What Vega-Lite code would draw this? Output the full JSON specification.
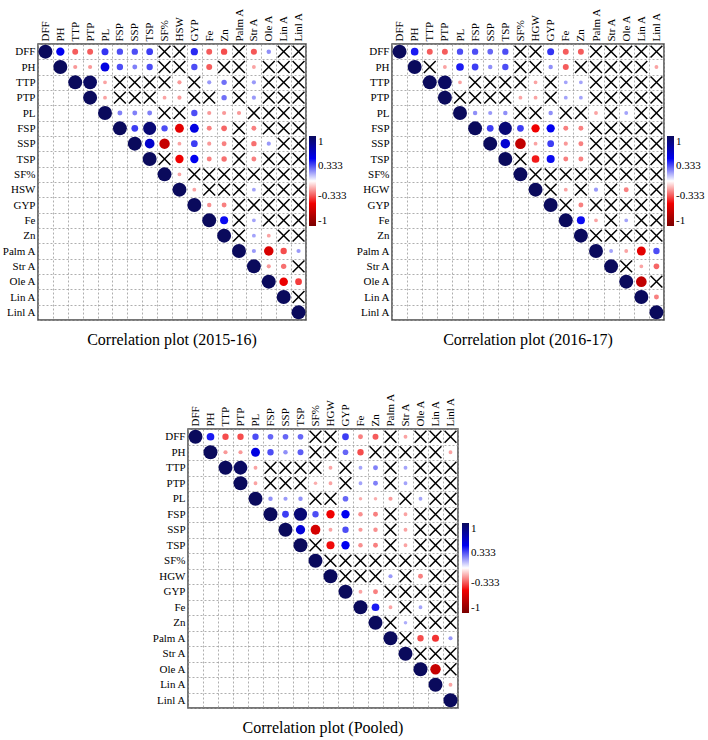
{
"$schema": "https://vega.github.io/schema/vega-lite/v6.json",
"padding": {"left": 0, "top": 6, "right": 0, "bottom": 0},
"config": {
  "font": "Liberation Serif",
  "view": {"stroke": "#4a4a4a", "strokeWidth": 1.5},
  "axis": {"labelFont": "Liberation Serif", "labelFontSize": 11, "labelColor": "#000", "gridColor": "#9a9a9a", "gridDash": [2, 2], "gridWidth": 0.8, "gridOpacity": 1, "ticks": false, "domain": false, "title": null, "labelPadding": 3},
  "legend": {"labelFont": "Liberation Serif", "labelFontSize": 11, "labelColor": "#000"},
  "title": {"font": "Liberation Serif", "fontSize": 16, "fontWeight": "normal", "color": "#000"}
},
"datasets": {
"a": [
{"r":"DFF","c":"DFF","v":1},{"r":"PH","c":"PH","v":1},{"r":"TTP","c":"TTP","v":1},{"r":"PTP","c":"PTP","v":1},{"r":"PL","c":"PL","v":1},{"r":"FSP","c":"FSP","v":1},{"r":"SSP","c":"SSP","v":1},{"r":"TSP","c":"TSP","v":1},{"r":"SF%","c":"SF%","v":1},{"r":"HSW","c":"HSW","v":1},{"r":"GYP","c":"GYP","v":1},{"r":"Fe","c":"Fe","v":1},{"r":"Zn","c":"Zn","v":1},{"r":"Palm A","c":"Palm A","v":1},{"r":"Str A","c":"Str A","v":1},{"r":"Ole A","c":"Ole A","v":1},{"r":"Lin A","c":"Lin A","v":1},{"r":"Linl A","c":"Linl A","v":1},
{"r":"DFF","c":"PH","v":0.5},{"r":"DFF","c":"TTP","v":-0.32},{"r":"DFF","c":"PTP","v":-0.32},{"r":"DFF","c":"PL","v":0.4},{"r":"DFF","c":"FSP","v":0.35},{"r":"DFF","c":"SSP","v":0.35},{"r":"DFF","c":"TSP","v":0.38},{"r":"DFF","c":"SF%","x":1},{"r":"DFF","c":"HSW","x":1},{"r":"DFF","c":"GYP","v":0.42},{"r":"DFF","c":"Fe","v":-0.32},{"r":"DFF","c":"Zn","v":-0.35},{"r":"DFF","c":"Palm A","x":1},{"r":"DFF","c":"Str A","v":-0.33},{"r":"DFF","c":"Ole A","v":0.22},{"r":"DFF","c":"Lin A","x":1},{"r":"DFF","c":"Linl A","x":1},
{"r":"PH","c":"TTP","v":-0.2},{"r":"PH","c":"PTP","v":-0.2},{"r":"PH","c":"PL","v":0.55},{"r":"PH","c":"FSP","v":0.35},{"r":"PH","c":"SSP","v":0.25},{"r":"PH","c":"TSP","v":0.35},{"r":"PH","c":"SF%","x":1},{"r":"PH","c":"HSW","x":1},{"r":"PH","c":"GYP","v":0.35},{"r":"PH","c":"Fe","v":-0.32},{"r":"PH","c":"Zn","x":1},{"r":"PH","c":"Palm A","x":1},{"r":"PH","c":"Str A","v":-0.18},{"r":"PH","c":"Ole A","x":1},{"r":"PH","c":"Lin A","x":1},{"r":"PH","c":"Linl A","x":1},
{"r":"TTP","c":"PTP","v":0.98},{"r":"TTP","c":"PL","v":-0.18},{"r":"TTP","c":"FSP","x":1},{"r":"TTP","c":"SSP","x":1},{"r":"TTP","c":"TSP","x":1},{"r":"TTP","c":"SF%","x":1},{"r":"TTP","c":"HSW","v":-0.2},{"r":"TTP","c":"GYP","x":1},{"r":"TTP","c":"Fe","v":0.2},{"r":"TTP","c":"Zn","v":0.28},{"r":"TTP","c":"Palm A","x":1},{"r":"TTP","c":"Str A","v":0.2},{"r":"TTP","c":"Ole A","x":1},{"r":"TTP","c":"Lin A","x":1},{"r":"TTP","c":"Linl A","x":1},
{"r":"PTP","c":"PL","v":-0.18},{"r":"PTP","c":"FSP","x":1},{"r":"PTP","c":"SSP","x":1},{"r":"PTP","c":"TSP","x":1},{"r":"PTP","c":"SF%","v":-0.18},{"r":"PTP","c":"HSW","v":-0.2},{"r":"PTP","c":"GYP","x":1},{"r":"PTP","c":"Fe","x":1},{"r":"PTP","c":"Zn","v":0.28},{"r":"PTP","c":"Palm A","x":1},{"r":"PTP","c":"Str A","v":0.2},{"r":"PTP","c":"Ole A","x":1},{"r":"PTP","c":"Lin A","x":1},{"r":"PTP","c":"Linl A","x":1},
{"r":"PL","c":"FSP","v":0.25},{"r":"PL","c":"SSP","v":0.25},{"r":"PL","c":"TSP","v":0.25},{"r":"PL","c":"SF%","x":1},{"r":"PL","c":"HSW","x":1},{"r":"PL","c":"GYP","v":0.35},{"r":"PL","c":"Fe","v":-0.2},{"r":"PL","c":"Zn","v":-0.2},{"r":"PL","c":"Palm A","v":-0.2},{"r":"PL","c":"Str A","x":1},{"r":"PL","c":"Ole A","x":1},{"r":"PL","c":"Lin A","x":1},{"r":"PL","c":"Linl A","x":1},
{"r":"FSP","c":"SSP","v":0.38},{"r":"FSP","c":"TSP","v":0.92},{"r":"FSP","c":"SF%","v":0.35},{"r":"FSP","c":"HSW","v":-0.55},{"r":"FSP","c":"GYP","v":0.55},{"r":"FSP","c":"Fe","v":-0.25},{"r":"FSP","c":"Zn","v":-0.3},{"r":"FSP","c":"Palm A","x":1},{"r":"FSP","c":"Str A","v":-0.25},{"r":"FSP","c":"Ole A","x":1},{"r":"FSP","c":"Lin A","x":1},{"r":"FSP","c":"Linl A","x":1},
{"r":"SSP","c":"TSP","v":0.62},{"r":"SSP","c":"SF%","v":-0.68},{"r":"SSP","c":"HSW","v":-0.18},{"r":"SSP","c":"GYP","v":0.38},{"r":"SSP","c":"Fe","v":-0.2},{"r":"SSP","c":"Zn","v":-0.25},{"r":"SSP","c":"Palm A","x":1},{"r":"SSP","c":"Str A","v":-0.28},{"r":"SSP","c":"Ole A","v":0.2},{"r":"SSP","c":"Lin A","x":1},{"r":"SSP","c":"Linl A","x":1},
{"r":"TSP","c":"SF%","x":1},{"r":"TSP","c":"HSW","v":-0.5},{"r":"TSP","c":"GYP","v":0.5},{"r":"TSP","c":"Fe","v":-0.25},{"r":"TSP","c":"Zn","v":-0.28},{"r":"TSP","c":"Palm A","x":1},{"r":"TSP","c":"Str A","v":-0.25},{"r":"TSP","c":"Ole A","x":1},{"r":"TSP","c":"Lin A","x":1},{"r":"TSP","c":"Linl A","x":1},
{"r":"SF%","c":"HSW","v":-0.18},{"r":"SF%","c":"GYP","x":1},{"r":"SF%","c":"Fe","x":1},{"r":"SF%","c":"Zn","x":1},{"r":"SF%","c":"Palm A","x":1},{"r":"SF%","c":"Str A","x":1},{"r":"SF%","c":"Ole A","x":1},{"r":"SF%","c":"Lin A","x":1},{"r":"SF%","c":"Linl A","x":1},
{"r":"HSW","c":"GYP","v":-0.18},{"r":"HSW","c":"Fe","x":1},{"r":"HSW","c":"Zn","x":1},{"r":"HSW","c":"Palm A","x":1},{"r":"HSW","c":"Str A","v":0.18},{"r":"HSW","c":"Ole A","x":1},{"r":"HSW","c":"Lin A","x":1},{"r":"HSW","c":"Linl A","x":1},
{"r":"GYP","c":"Fe","v":-0.22},{"r":"GYP","c":"Zn","v":-0.25},{"r":"GYP","c":"Palm A","x":1},{"r":"GYP","c":"Str A","x":1},{"r":"GYP","c":"Ole A","x":1},{"r":"GYP","c":"Lin A","x":1},{"r":"GYP","c":"Linl A","x":1},
{"r":"Fe","c":"Zn","v":0.48},{"r":"Fe","c":"Palm A","x":1},{"r":"Fe","c":"Str A","v":0.18},{"r":"Fe","c":"Ole A","x":1},{"r":"Fe","c":"Lin A","x":1},{"r":"Fe","c":"Linl A","x":1},
{"r":"Zn","c":"Palm A","x":1},{"r":"Zn","c":"Str A","v":0.18},{"r":"Zn","c":"Ole A","v":-0.18},{"r":"Zn","c":"Lin A","x":1},{"r":"Zn","c":"Linl A","x":1},
{"r":"Palm A","c":"Str A","v":0.2},{"r":"Palm A","c":"Ole A","v":-0.6},{"r":"Palm A","c":"Lin A","v":-0.35},{"r":"Palm A","c":"Linl A","v":0.2},
{"r":"Str A","c":"Ole A","v":-0.2},{"r":"Str A","c":"Lin A","v":-0.28},{"r":"Str A","c":"Linl A","x":1},
{"r":"Ole A","c":"Lin A","v":-0.52},{"r":"Ole A","c":"Linl A","v":-0.38},
{"r":"Lin A","c":"Linl A","x":1}
],
"b": [
{"r":"DFF","c":"DFF","v":1},{"r":"PH","c":"PH","v":1},{"r":"TTP","c":"TTP","v":1},{"r":"PTP","c":"PTP","v":1},{"r":"PL","c":"PL","v":1},{"r":"FSP","c":"FSP","v":1},{"r":"SSP","c":"SSP","v":1},{"r":"TSP","c":"TSP","v":1},{"r":"SF%","c":"SF%","v":1},{"r":"HGW","c":"HGW","v":1},{"r":"GYP","c":"GYP","v":1},{"r":"Fe","c":"Fe","v":1},{"r":"Zn","c":"Zn","v":1},{"r":"Palm A","c":"Palm A","v":1},{"r":"Str A","c":"Str A","v":1},{"r":"Ole A","c":"Ole A","v":1},{"r":"Lin A","c":"Lin A","v":1},{"r":"Linl A","c":"Linl A","v":1},
{"r":"DFF","c":"PH","v":0.45},{"r":"DFF","c":"TTP","v":-0.32},{"r":"DFF","c":"PTP","v":-0.32},{"r":"DFF","c":"PL","v":0.35},{"r":"DFF","c":"FSP","v":0.35},{"r":"DFF","c":"SSP","v":0.3},{"r":"DFF","c":"TSP","v":0.35},{"r":"DFF","c":"SF%","x":1},{"r":"DFF","c":"HGW","x":1},{"r":"DFF","c":"GYP","v":0.4},{"r":"DFF","c":"Fe","v":-0.32},{"r":"DFF","c":"Zn","v":-0.32},{"r":"DFF","c":"Palm A","x":1},{"r":"DFF","c":"Str A","x":1},{"r":"DFF","c":"Ole A","x":1},{"r":"DFF","c":"Lin A","x":1},{"r":"DFF","c":"Linl A","x":1},
{"r":"PH","c":"TTP","x":1},{"r":"PH","c":"PTP","v":-0.18},{"r":"PH","c":"PL","v":0.45},{"r":"PH","c":"FSP","v":0.38},{"r":"PH","c":"SSP","v":0.22},{"r":"PH","c":"TSP","v":0.35},{"r":"PH","c":"SF%","x":1},{"r":"PH","c":"HGW","x":1},{"r":"PH","c":"GYP","v":0.22},{"r":"PH","c":"Fe","v":-0.32},{"r":"PH","c":"Zn","x":1},{"r":"PH","c":"Palm A","x":1},{"r":"PH","c":"Str A","x":1},{"r":"PH","c":"Ole A","x":1},{"r":"PH","c":"Lin A","x":1},{"r":"PH","c":"Linl A","v":-0.18},
{"r":"TTP","c":"PTP","v":0.98},{"r":"TTP","c":"PL","v":-0.18},{"r":"TTP","c":"FSP","x":1},{"r":"TTP","c":"SSP","x":1},{"r":"TTP","c":"TSP","x":1},{"r":"TTP","c":"SF%","x":1},{"r":"TTP","c":"HGW","v":-0.18},{"r":"TTP","c":"GYP","x":1},{"r":"TTP","c":"Fe","v":0.18},{"r":"TTP","c":"Zn","v":0.18},{"r":"TTP","c":"Palm A","x":1},{"r":"TTP","c":"Str A","x":1},{"r":"TTP","c":"Ole A","x":1},{"r":"TTP","c":"Lin A","x":1},{"r":"TTP","c":"Linl A","x":1},
{"r":"PTP","c":"PL","x":1},{"r":"PTP","c":"FSP","x":1},{"r":"PTP","c":"SSP","x":1},{"r":"PTP","c":"TSP","x":1},{"r":"PTP","c":"SF%","v":-0.18},{"r":"PTP","c":"HGW","v":-0.18},{"r":"PTP","c":"GYP","x":1},{"r":"PTP","c":"Fe","v":0.18},{"r":"PTP","c":"Zn","v":0.18},{"r":"PTP","c":"Palm A","x":1},{"r":"PTP","c":"Str A","x":1},{"r":"PTP","c":"Ole A","x":1},{"r":"PTP","c":"Lin A","x":1},{"r":"PTP","c":"Linl A","x":1},
{"r":"PL","c":"FSP","v":0.22},{"r":"PL","c":"SSP","v":0.2},{"r":"PL","c":"TSP","v":0.22},{"r":"PL","c":"SF%","x":1},{"r":"PL","c":"HGW","x":1},{"r":"PL","c":"GYP","v":0.22},{"r":"PL","c":"Fe","x":1},{"r":"PL","c":"Zn","x":1},{"r":"PL","c":"Palm A","v":-0.18},{"r":"PL","c":"Str A","x":1},{"r":"PL","c":"Ole A","v":0.18},{"r":"PL","c":"Lin A","x":1},{"r":"PL","c":"Linl A","x":1},
{"r":"FSP","c":"SSP","v":0.38},{"r":"FSP","c":"TSP","v":0.92},{"r":"FSP","c":"SF%","v":0.38},{"r":"FSP","c":"HGW","v":-0.5},{"r":"FSP","c":"GYP","v":0.5},{"r":"FSP","c":"Fe","v":-0.25},{"r":"FSP","c":"Zn","v":-0.25},{"r":"FSP","c":"Palm A","x":1},{"r":"FSP","c":"Str A","x":1},{"r":"FSP","c":"Ole A","x":1},{"r":"FSP","c":"Lin A","x":1},{"r":"FSP","c":"Linl A","x":1},
{"r":"SSP","c":"TSP","v":0.6},{"r":"SSP","c":"SF%","v":-0.7},{"r":"SSP","c":"HGW","v":-0.18},{"r":"SSP","c":"GYP","v":0.38},{"r":"SSP","c":"Fe","v":-0.2},{"r":"SSP","c":"Zn","v":-0.25},{"r":"SSP","c":"Palm A","x":1},{"r":"SSP","c":"Str A","x":1},{"r":"SSP","c":"Ole A","x":1},{"r":"SSP","c":"Lin A","x":1},{"r":"SSP","c":"Linl A","x":1},
{"r":"TSP","c":"SF%","x":1},{"r":"TSP","c":"HGW","v":-0.45},{"r":"TSP","c":"GYP","v":0.48},{"r":"TSP","c":"Fe","v":-0.25},{"r":"TSP","c":"Zn","v":-0.25},{"r":"TSP","c":"Palm A","x":1},{"r":"TSP","c":"Str A","x":1},{"r":"TSP","c":"Ole A","x":1},{"r":"TSP","c":"Lin A","x":1},{"r":"TSP","c":"Linl A","x":1},
{"r":"SF%","c":"HGW","x":1},{"r":"SF%","c":"GYP","x":1},{"r":"SF%","c":"Fe","x":1},{"r":"SF%","c":"Zn","x":1},{"r":"SF%","c":"Palm A","x":1},{"r":"SF%","c":"Str A","x":1},{"r":"SF%","c":"Ole A","x":1},{"r":"SF%","c":"Lin A","x":1},{"r":"SF%","c":"Linl A","x":1},
{"r":"HGW","c":"GYP","x":1},{"r":"HGW","c":"Fe","v":-0.18},{"r":"HGW","c":"Zn","x":1},{"r":"HGW","c":"Palm A","v":0.2},{"r":"HGW","c":"Str A","x":1},{"r":"HGW","c":"Ole A","v":-0.25},{"r":"HGW","c":"Lin A","x":1},{"r":"HGW","c":"Linl A","x":1},
{"r":"GYP","c":"Fe","x":1},{"r":"GYP","c":"Zn","v":-0.25},{"r":"GYP","c":"Palm A","x":1},{"r":"GYP","c":"Str A","x":1},{"r":"GYP","c":"Ole A","x":1},{"r":"GYP","c":"Lin A","x":1},{"r":"GYP","c":"Linl A","x":1},
{"r":"Fe","c":"Zn","v":0.48},{"r":"Fe","c":"Palm A","v":-0.18},{"r":"Fe","c":"Str A","x":1},{"r":"Fe","c":"Ole A","v":0.18},{"r":"Fe","c":"Lin A","x":1},{"r":"Fe","c":"Linl A","x":1},
{"r":"Zn","c":"Palm A","x":1},{"r":"Zn","c":"Str A","x":1},{"r":"Zn","c":"Ole A","x":1},{"r":"Zn","c":"Lin A","x":1},{"r":"Zn","c":"Linl A","x":1},
{"r":"Palm A","c":"Str A","v":0.18},{"r":"Palm A","c":"Ole A","v":-0.18},{"r":"Palm A","c":"Lin A","v":-0.55},{"r":"Palm A","c":"Linl A","v":0.35},
{"r":"Str A","c":"Ole A","x":1},{"r":"Str A","c":"Lin A","v":-0.18},{"r":"Str A","c":"Linl A","v":-0.3},
{"r":"Ole A","c":"Lin A","v":-0.7},{"r":"Ole A","c":"Linl A","x":1},
{"r":"Lin A","c":"Linl A","v":-0.25}
],
"c": [
{"r":"DFF","c":"DFF","v":1},{"r":"PH","c":"PH","v":1},{"r":"TTP","c":"TTP","v":1},{"r":"PTP","c":"PTP","v":1},{"r":"PL","c":"PL","v":1},{"r":"FSP","c":"FSP","v":1},{"r":"SSP","c":"SSP","v":1},{"r":"TSP","c":"TSP","v":1},{"r":"SF%","c":"SF%","v":1},{"r":"HGW","c":"HGW","v":1},{"r":"GYP","c":"GYP","v":1},{"r":"Fe","c":"Fe","v":1},{"r":"Zn","c":"Zn","v":1},{"r":"Palm A","c":"Palm A","v":1},{"r":"Str A","c":"Str A","v":1},{"r":"Ole A","c":"Ole A","v":1},{"r":"Lin A","c":"Lin A","v":1},{"r":"Linl A","c":"Linl A","v":1},
{"r":"DFF","c":"PH","v":0.45},{"r":"DFF","c":"TTP","v":-0.35},{"r":"DFF","c":"PTP","v":-0.35},{"r":"DFF","c":"PL","v":0.35},{"r":"DFF","c":"FSP","v":0.3},{"r":"DFF","c":"SSP","v":0.3},{"r":"DFF","c":"TSP","v":0.3},{"r":"DFF","c":"SF%","x":1},{"r":"DFF","c":"HGW","x":1},{"r":"DFF","c":"GYP","v":0.38},{"r":"DFF","c":"Fe","v":-0.25},{"r":"DFF","c":"Zn","v":-0.32},{"r":"DFF","c":"Palm A","x":1},{"r":"DFF","c":"Str A","v":-0.18},{"r":"DFF","c":"Ole A","x":1},{"r":"DFF","c":"Lin A","x":1},{"r":"DFF","c":"Linl A","x":1},
{"r":"PH","c":"TTP","v":-0.2},{"r":"PH","c":"PTP","v":-0.2},{"r":"PH","c":"PL","v":0.55},{"r":"PH","c":"FSP","v":0.35},{"r":"PH","c":"SSP","v":0.22},{"r":"PH","c":"TSP","v":0.32},{"r":"PH","c":"SF%","x":1},{"r":"PH","c":"HGW","x":1},{"r":"PH","c":"GYP","v":0.3},{"r":"PH","c":"Fe","v":-0.35},{"r":"PH","c":"Zn","x":1},{"r":"PH","c":"Palm A","x":1},{"r":"PH","c":"Str A","x":1},{"r":"PH","c":"Ole A","x":1},{"r":"PH","c":"Lin A","x":1},{"r":"PH","c":"Linl A","v":-0.18},
{"r":"TTP","c":"PTP","v":0.98},{"r":"TTP","c":"PL","v":-0.18},{"r":"TTP","c":"FSP","x":1},{"r":"TTP","c":"SSP","x":1},{"r":"TTP","c":"TSP","x":1},{"r":"TTP","c":"SF%","x":1},{"r":"TTP","c":"HGW","v":-0.18},{"r":"TTP","c":"GYP","x":1},{"r":"TTP","c":"Fe","v":0.18},{"r":"TTP","c":"Zn","v":0.25},{"r":"TTP","c":"Palm A","x":1},{"r":"TTP","c":"Str A","v":0.18},{"r":"TTP","c":"Ole A","x":1},{"r":"TTP","c":"Lin A","x":1},{"r":"TTP","c":"Linl A","x":1},
{"r":"PTP","c":"PL","v":-0.18},{"r":"PTP","c":"FSP","x":1},{"r":"PTP","c":"SSP","x":1},{"r":"PTP","c":"TSP","x":1},{"r":"PTP","c":"SF%","v":-0.16},{"r":"PTP","c":"HGW","v":-0.18},{"r":"PTP","c":"GYP","x":1},{"r":"PTP","c":"Fe","v":0.18},{"r":"PTP","c":"Zn","v":0.25},{"r":"PTP","c":"Palm A","x":1},{"r":"PTP","c":"Str A","v":0.18},{"r":"PTP","c":"Ole A","x":1},{"r":"PTP","c":"Lin A","x":1},{"r":"PTP","c":"Linl A","x":1},
{"r":"PL","c":"FSP","v":0.22},{"r":"PL","c":"SSP","v":0.2},{"r":"PL","c":"TSP","v":0.22},{"r":"PL","c":"SF%","x":1},{"r":"PL","c":"HGW","x":1},{"r":"PL","c":"GYP","v":0.3},{"r":"PL","c":"Fe","v":-0.16},{"r":"PL","c":"Zn","v":-0.16},{"r":"PL","c":"Palm A","v":-0.2},{"r":"PL","c":"Str A","x":1},{"r":"PL","c":"Ole A","v":0.18},{"r":"PL","c":"Lin A","x":1},{"r":"PL","c":"Linl A","x":1},
{"r":"FSP","c":"SSP","v":0.38},{"r":"FSP","c":"TSP","v":0.92},{"r":"FSP","c":"SF%","v":0.35},{"r":"FSP","c":"HGW","v":-0.5},{"r":"FSP","c":"GYP","v":0.5},{"r":"FSP","c":"Fe","v":-0.22},{"r":"FSP","c":"Zn","v":-0.25},{"r":"FSP","c":"Palm A","x":1},{"r":"FSP","c":"Str A","v":-0.18},{"r":"FSP","c":"Ole A","x":1},{"r":"FSP","c":"Lin A","x":1},{"r":"FSP","c":"Linl A","x":1},
{"r":"SSP","c":"TSP","v":0.58},{"r":"SSP","c":"SF%","v":-0.62},{"r":"SSP","c":"HGW","v":-0.18},{"r":"SSP","c":"GYP","v":0.35},{"r":"SSP","c":"Fe","v":-0.2},{"r":"SSP","c":"Zn","v":-0.22},{"r":"SSP","c":"Palm A","x":1},{"r":"SSP","c":"Str A","v":-0.18},{"r":"SSP","c":"Ole A","x":1},{"r":"SSP","c":"Lin A","x":1},{"r":"SSP","c":"Linl A","x":1},
{"r":"TSP","c":"SF%","x":1},{"r":"TSP","c":"HGW","v":-0.48},{"r":"TSP","c":"GYP","v":0.5},{"r":"TSP","c":"Fe","v":-0.22},{"r":"TSP","c":"Zn","v":-0.25},{"r":"TSP","c":"Palm A","x":1},{"r":"TSP","c":"Str A","v":-0.18},{"r":"TSP","c":"Ole A","x":1},{"r":"TSP","c":"Lin A","x":1},{"r":"TSP","c":"Linl A","x":1},
{"r":"SF%","c":"HGW","x":1},{"r":"SF%","c":"GYP","x":1},{"r":"SF%","c":"Fe","x":1},{"r":"SF%","c":"Zn","x":1},{"r":"SF%","c":"Palm A","x":1},{"r":"SF%","c":"Str A","x":1},{"r":"SF%","c":"Ole A","x":1},{"r":"SF%","c":"Lin A","x":1},{"r":"SF%","c":"Linl A","x":1},
{"r":"HGW","c":"GYP","x":1},{"r":"HGW","c":"Fe","x":1},{"r":"HGW","c":"Zn","x":1},{"r":"HGW","c":"Palm A","v":0.2},{"r":"HGW","c":"Str A","x":1},{"r":"HGW","c":"Ole A","v":-0.25},{"r":"HGW","c":"Lin A","x":1},{"r":"HGW","c":"Linl A","x":1},
{"r":"GYP","c":"Fe","v":-0.18},{"r":"GYP","c":"Zn","v":-0.25},{"r":"GYP","c":"Palm A","x":1},{"r":"GYP","c":"Str A","x":1},{"r":"GYP","c":"Ole A","x":1},{"r":"GYP","c":"Lin A","x":1},{"r":"GYP","c":"Linl A","x":1},
{"r":"Fe","c":"Zn","v":0.45},{"r":"Fe","c":"Palm A","v":-0.18},{"r":"Fe","c":"Str A","x":1},{"r":"Fe","c":"Ole A","v":0.18},{"r":"Fe","c":"Lin A","x":1},{"r":"Fe","c":"Linl A","x":1},
{"r":"Zn","c":"Palm A","x":1},{"r":"Zn","c":"Str A","v":0.16},{"r":"Zn","c":"Ole A","x":1},{"r":"Zn","c":"Lin A","x":1},{"r":"Zn","c":"Linl A","x":1},
{"r":"Palm A","c":"Str A","x":1},{"r":"Palm A","c":"Ole A","v":-0.35},{"r":"Palm A","c":"Lin A","v":-0.4},{"r":"Palm A","c":"Linl A","v":0.2},
{"r":"Str A","c":"Ole A","x":1},{"r":"Str A","c":"Lin A","x":1},{"r":"Str A","c":"Linl A","x":1},
{"r":"Ole A","c":"Lin A","v":-0.68},{"r":"Ole A","c":"Linl A","x":1},
{"r":"Lin A","c":"Linl A","v":-0.18}
]
},
"resolve": {"scale": {"color": "independent", "size": "independent"}, "legend": {"color": "independent", "size": "independent"}},
"spacing": 42,
"vconcat": [
{
"hconcat": [
{
"width": 268, "height": 276,
"data": {"name": "a"},
"title": {"text": "Correlation plot (2015-16)", "orient": "bottom", "anchor": "middle", "frame": "group", "offset": 12},
"encoding": {
  "x": {"field": "c", "type": "nominal", "scale": {"type": "band", "domain": ["DFF","PH","TTP","PTP","PL","FSP","SSP","TSP","SF%","HSW","GYP","Fe","Zn","Palm A","Str A","Ole A","Lin A","Linl A"], "paddingInner": 0, "paddingOuter": 0}, "axis": {"orient": "top", "labelAngle": -90, "tickBand": "extent", "grid": true}},
  "y": {"field": "r", "type": "nominal", "scale": {"type": "band", "domain": ["DFF","PH","TTP","PTP","PL","FSP","SSP","TSP","SF%","HSW","GYP","Fe","Zn","Palm A","Str A","Ole A","Lin A","Linl A"], "paddingInner": 0, "paddingOuter": 0}, "axis": {"orient": "left", "tickBand": "extent", "grid": true}}
},
"layer": [
  {"transform": [{"filter": "datum.x !== 1"}], "mark": {"type": "point", "shape": "circle", "filled": true, "opacity": 1, "strokeWidth": 0},
   "encoding": {
     "size": {"field": "v", "type": "quantitative", "scale": {"type": "pow", "exponent": 1.5, "domain": [-1, 0, 1], "range": [195, 0, 195]}, "legend": null},
     "color": {"field": "v", "type": "quantitative", "scale": {"domain": [-1, -0.5, 0, 0.5, 1], "range": ["#7A0000", "#F00000", "#FFFFFF", "#0000F0", "#0A0A5C"], "interpolate": "rgb"},
       "legend": {"orient": "none", "legendX": 271, "legendY": 92, "direction": "vertical", "gradientLength": 90, "gradientThickness": 7, "gradientStrokeWidth": 0, "title": null, "values": [-1, -0.333, 0.333, 1], "labelOffset": 2, "labelExpr": "datum.value > 0.5 ? '1' : datum.value > 0 ? '0.333' : datum.value > -0.5 ? '-0.333' : '-1'"}}
   }},
  {"transform": [{"filter": "datum.x === 1"}], "mark": {"type": "point", "shape": "M-1,-1L1,1M-1,1L1,-1", "filled": false, "stroke": "#000", "strokeWidth": 1.5, "size": 140, "opacity": 1}}
]
},
{
"width": 272, "height": 276,
"data": {"name": "b"},
"title": {"text": "Correlation plot (2016-17)", "orient": "bottom", "anchor": "middle", "frame": "group", "offset": 12},
"encoding": {
  "x": {"field": "c", "type": "nominal", "scale": {"type": "band", "domain": ["DFF","PH","TTP","PTP","PL","FSP","SSP","TSP","SF%","HGW","GYP","Fe","Zn","Palm A","Str A","Ole A","Lin A","Linl A"], "paddingInner": 0, "paddingOuter": 0}, "axis": {"orient": "top", "labelAngle": -90, "tickBand": "extent", "grid": true}},
  "y": {"field": "r", "type": "nominal", "scale": {"type": "band", "domain": ["DFF","PH","TTP","PTP","PL","FSP","SSP","TSP","SF%","HGW","GYP","Fe","Zn","Palm A","Str A","Ole A","Lin A","Linl A"], "paddingInner": 0, "paddingOuter": 0}, "axis": {"orient": "left", "tickBand": "extent", "grid": true}}
},
"layer": [
  {"transform": [{"filter": "datum.x !== 1"}], "mark": {"type": "point", "shape": "circle", "filled": true, "opacity": 1, "strokeWidth": 0},
   "encoding": {
     "size": {"field": "v", "type": "quantitative", "scale": {"type": "pow", "exponent": 1.5, "domain": [-1, 0, 1], "range": [195, 0, 195]}, "legend": null},
     "color": {"field": "v", "type": "quantitative", "scale": {"domain": [-1, -0.5, 0, 0.5, 1], "range": ["#7A0000", "#F00000", "#FFFFFF", "#0000F0", "#0A0A5C"], "interpolate": "rgb"},
       "legend": {"orient": "none", "legendX": 275, "legendY": 92, "direction": "vertical", "gradientLength": 90, "gradientThickness": 7, "gradientStrokeWidth": 0, "title": null, "values": [-1, -0.333, 0.333, 1], "labelOffset": 2, "labelExpr": "datum.value > 0.5 ? '1' : datum.value > 0 ? '0.333' : datum.value > -0.5 ? '-0.333' : '-1'"}}
   }},
  {"transform": [{"filter": "datum.x === 1"}], "mark": {"type": "point", "shape": "M-1,-1L1,1M-1,1L1,-1", "filled": false, "stroke": "#000", "strokeWidth": 1.5, "size": 140, "opacity": 1}}
]
}
],
"spacing": 6,
"resolve": {"scale": {"color": "independent", "size": "independent"}, "legend": {"color": "independent", "size": "independent"}}
},
{
"hconcat": [
{"width": 112, "height": 10, "data": {"values": []}, "mark": {"type": "point"}, "view": {"stroke": null}},
{
"width": 270, "height": 279,
"data": {"name": "c"},
"title": {"text": "Correlation plot (Pooled)", "orient": "bottom", "anchor": "middle", "frame": "group", "offset": 12},
"encoding": {
  "x": {"field": "c", "type": "nominal", "scale": {"type": "band", "domain": ["DFF","PH","TTP","PTP","PL","FSP","SSP","TSP","SF%","HGW","GYP","Fe","Zn","Palm A","Str A","Ole A","Lin A","Linl A"], "paddingInner": 0, "paddingOuter": 0}, "axis": {"orient": "top", "labelAngle": -90, "tickBand": "extent", "grid": true}},
  "y": {"field": "r", "type": "nominal", "scale": {"type": "band", "domain": ["DFF","PH","TTP","PTP","PL","FSP","SSP","TSP","SF%","HGW","GYP","Fe","Zn","Palm A","Str A","Ole A","Lin A","Linl A"], "paddingInner": 0, "paddingOuter": 0}, "axis": {"orient": "left", "tickBand": "extent", "grid": true}}
},
"layer": [
  {"transform": [{"filter": "datum.x !== 1"}], "mark": {"type": "point", "shape": "circle", "filled": true, "opacity": 1, "strokeWidth": 0},
   "encoding": {
     "size": {"field": "v", "type": "quantitative", "scale": {"type": "pow", "exponent": 1.5, "domain": [-1, 0, 1], "range": [195, 0, 195]}, "legend": null},
     "color": {"field": "v", "type": "quantitative", "scale": {"domain": [-1, -0.5, 0, 0.5, 1], "range": ["#7A0000", "#F00000", "#FFFFFF", "#0000F0", "#0A0A5C"], "interpolate": "rgb"},
       "legend": {"orient": "none", "legendX": 274, "legendY": 94, "direction": "vertical", "gradientLength": 90, "gradientThickness": 7, "gradientStrokeWidth": 0, "title": null, "values": [-1, -0.333, 0.333, 1], "labelOffset": 2, "labelExpr": "datum.value > 0.5 ? '1' : datum.value > 0 ? '0.333' : datum.value > -0.5 ? '-0.333' : '-1'"}}
   }},
  {"transform": [{"filter": "datum.x === 1"}], "mark": {"type": "point", "shape": "M-1,-1L1,1M-1,1L1,-1", "filled": false, "stroke": "#000", "strokeWidth": 1.5, "size": 140, "opacity": 1}}
]
}
],
"spacing": 0,
"resolve": {"scale": {"color": "independent", "size": "independent"}, "legend": {"color": "independent", "size": "independent"}}
}
]
}
